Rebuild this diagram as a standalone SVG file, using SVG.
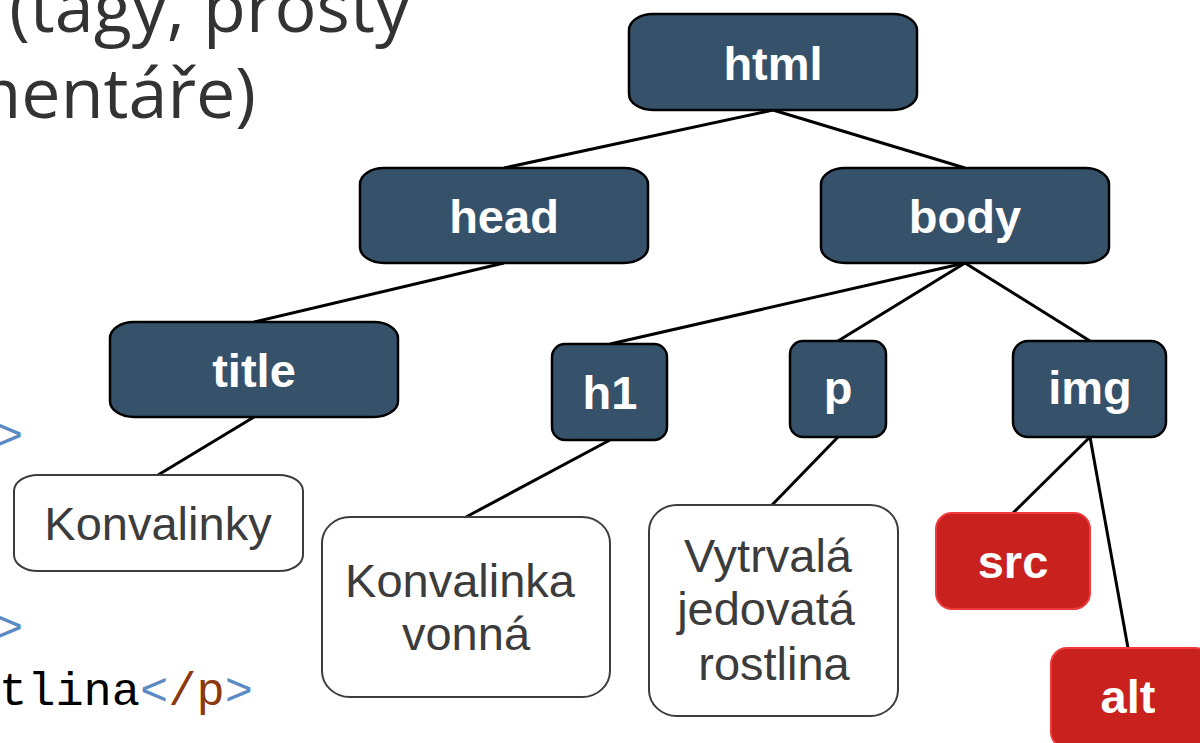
<svg xmlns="http://www.w3.org/2000/svg" width="1200" height="743" viewBox="0 0 1200 743">
<style>
.dark rect{fill:#36526a;stroke:#000;stroke-width:2.5}
.red rect{fill:#c9211e;stroke:#f0393a;stroke-width:2}
.leaf rect{fill:#fff;stroke:#3c3c3c;stroke-width:2}
.lbl{font-family:"Liberation Sans",Arial,sans-serif;font-weight:bold;font-size:47px;fill:#fff;text-anchor:middle}
.txt{font-family:"Liberation Sans",Arial,sans-serif;font-size:47px;fill:#3c3c3c;text-anchor:middle}
.slide{font-family:"Open Sans",sans-serif;font-size:70px;fill:#333}
.code{font-family:"Liberation Mono","Courier New",monospace;font-size:47px}
#connectors line{stroke:#000;stroke-width:3}
</style>
<rect width="1200" height="743" fill="#fff"/>
<g id="slide-text">
<text class="slide" x="410" y="32" text-anchor="end">(tagy, prostý</text>
<text class="slide" x="256" y="118" text-anchor="end">komentáře)</text>
<text class="code" x="-5" y="450" fill="#5b8ac4">&gt;</text>
<text class="code" x="-5" y="642" fill="#5b8ac4">&gt;</text>
<text class="code" x="-1" y="705"><tspan fill="#000">tlina</tspan><tspan fill="#5b8ac4">&lt;</tspan><tspan fill="#8b3a0e">/p</tspan><tspan fill="#5b8ac4">&gt;</tspan></text>
</g>
<g id="connectors">
<line x1="773" y1="110" x2="504" y2="168"/>
<line x1="773" y1="110" x2="965" y2="168"/>
<line x1="504" y1="263" x2="254" y2="322"/>
<line x1="965" y1="263" x2="610" y2="344"/>
<line x1="965" y1="263" x2="838" y2="341"/>
<line x1="965" y1="263" x2="1090" y2="341"/>
<line x1="254" y1="417" x2="158" y2="475"/>
<line x1="610" y1="440" x2="466" y2="517"/>
<line x1="838" y1="437" x2="772" y2="505"/>
<line x1="1090" y1="437" x2="1013" y2="513"/>
<line x1="1090" y1="437" x2="1128" y2="648"/>
</g>
<g id="node-html" class="dark"><rect x="629" y="14" width="288" height="96" rx="24" ry="16"/><text class="lbl" x="773" y="80">html</text></g>
<g id="node-head" class="dark"><rect x="360" y="168" width="288" height="95" rx="24" ry="16"/><text class="lbl" x="504" y="233">head</text></g>
<g id="node-body" class="dark"><rect x="821" y="168" width="288" height="95" rx="24" ry="16"/><text class="lbl" x="965" y="233">body</text></g>
<g id="node-title" class="dark"><rect x="110" y="322" width="288" height="95" rx="24" ry="16"/><text class="lbl" x="254" y="387">title</text></g>
<g id="node-h1" class="dark"><rect x="552" y="344" width="115" height="96" rx="13" ry="13"/><text class="lbl" x="610" y="409">h1</text></g>
<g id="node-p" class="dark"><rect x="790" y="341" width="96" height="96" rx="13" ry="13"/><text class="lbl" x="838" y="404">p</text></g>
<g id="node-img" class="dark"><rect x="1013" y="341" width="153" height="96" rx="15" ry="15"/><text class="lbl" x="1090" y="404">img</text></g>
<g id="node-konvalinky" class="leaf"><rect x="14" y="475" width="289" height="96" rx="24" ry="16"/><text class="txt" x="158" y="540">Konvalinky</text></g>
<g id="node-konvalinka-vonna" class="leaf"><rect x="322" y="517" width="288" height="180" rx="28" ry="26"/><text class="txt" x="460" y="597">Konvalinka</text><text class="txt" x="466" y="650">vonná</text></g>
<g id="node-vytrvala" class="leaf"><rect x="649" y="505" width="249" height="211" rx="28" ry="26"/><text class="txt" x="768" y="572">Vytrvalá</text><text class="txt" x="766" y="625">jedovatá</text><text class="txt" x="774" y="680">rostlina</text></g>
<g id="node-src" class="red"><rect x="936" y="513" width="154" height="96" rx="16" ry="16"/><text class="lbl" x="1013" y="578">src</text></g>
<g id="node-alt" class="red"><rect x="1051" y="648" width="160" height="100" rx="16" ry="16"/><text class="lbl" x="1128" y="713">alt</text></g>
</svg>
